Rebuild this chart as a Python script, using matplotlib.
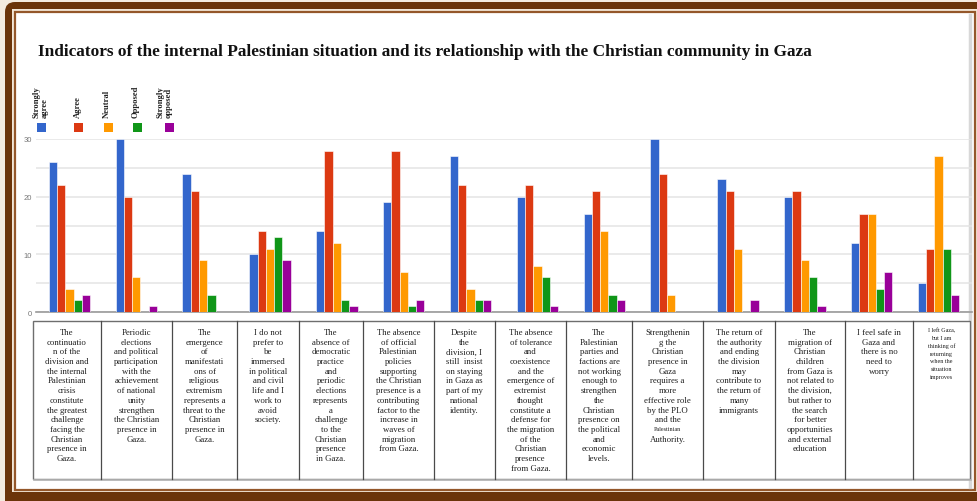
import numpy as np
import matplotlib
matplotlib.use("Agg")
import matplotlib.pyplot as plt
from matplotlib.patches import Rectangle, FancyBboxPatch

# series and values
series = ["Strongly\nagree", "Agree", "Neutral", "Opposed", "Strongly\nopposed"]
colors = ["#3366cc", "#dc3912", "#ff9900", "#109618", "#990099"]

strongly_agree = [26, 30, 24, 10, 14, 19, 27, 20, 17, 30, 23, 20, 12, 5]
agree = [22, 20, 21, 14, 28, 28, 22, 22, 21, 24, 21, 21, 17, 11]
neutral = [4, 6, 9, 11, 12, 7, 4, 8, 14, 3, 11, 9, 17, 27]
opposed = [2, 0, 3, 13, 2, 1, 2, 6, 3, 0, 0, 6, 4, 11]
strongly_opposed = [3, 1, 0, 9, 1, 2, 2, 1, 2, 0, 2, 1, 7, 3]
values = [strongly_agree, agree, neutral, opposed, strongly_opposed]

yticks = [0, 10, 20, 30]

# statement text under each group, line by line
statements = [
    ["The", "continuatio", "n of the", "division and", "the internal", "Palestinian",
     "crisis", "constitute", "the greatest", "challenge", "facing the", "Christian",
     "presence in", "Gaza."],
    ["Periodic", "elections", "and political", "participation", "with the",
     "achievement", "of national", "unity", "strengthen", "the Christian",
     "presence in", "Gaza."],
    ["The", "emergence", "of", "manifestati", "ons of", "religious", "extremism",
     "represents a", "threat to the", "Christian", "presence in", "Gaza."],
    ["I do not", "prefer to", "be", "immersed", "in political", "and civil",
     "life and I", "work to", "avoid", "society."],
    ["The", "absence of", "democratic", "practice", "and", "periodic", "elections",
     "represents", "a", "challenge", "to the", "Christian", "presence", "in Gaza."],
    ["The absence", "of official", "Palestinian", "policies", "supporting",
     "the Christian", "presence is a", "contributing", "factor to the",
     "increase in", "waves of", "migration", "from Gaza."],
    ["Despite", "the", "division, I", "still  insist", "on staying", "in Gaza as",
     "part of my", "national", "identity."],
    ["The absence", "of tolerance", "and", "coexistence", "and the", "emergence of",
     "extremist", "thought", "constitute a", "defense for", "the migration",
     "of the", "Christian", "presence", "from Gaza."],
    ["The", "Palestinian", "parties and", "factions are", "not working",
     "enough to", "strengthen", "the", "Christian", "presence on",
     "the political", "and", "economic", "levels."],
    ["Strengthenin", "g the", "Christian", "presence in", "Gaza", "requires a",
     "more", "effective role", "by the PLO", "and the", "Palestinian",
     "Authority."],
    ["The return of", "the authority", "and ending", "the division", "may",
     "contribute to", "the return of", "many", "immigrants"],
    ["The", "migration of", "Christian", "children", "from Gaza is",
     "not related to", "the division,", "but rather to", "the search",
     "for better", "opportunities", "and external", "education"],
    ["I feel safe in", "Gaza and", "there is no", "need to", "worry"],
    ["I left Gaza,", "but I am", "thinking of", "returning", "when the",
     "situation", "improves"],
]

title = ("Indicators of the internal Palestinian situation and its relationship "
         "with the Christian community in Gaza")

W, H = 977, 502
fig = plt.figure(figsize=(W / 100, H / 100), dpi=100)
fig.patch.set_facecolor("#f4ebdf")

# frame layer (pixel coordinates, y down)
frame = fig.add_axes([0, 0, 1, 1], zorder=0)
frame.set_xlim(0, W)
frame.set_ylim(H, 0)
frame.axis("off")
frame.add_patch(FancyBboxPatch((5, 3), 1000, 520, boxstyle="round,pad=0,rounding_size=10",
                               facecolor="#6b3409", edgecolor="none"))
frame.add_patch(Rectangle((12, 10), 1000, 483, facecolor="#f3e7d8", edgecolor="none"))
frame.add_patch(Rectangle((15, 13), 960, 478, facecolor="white",
                          edgecolor="#94572a", linewidth=1.6))
frame.plot([970, 970], [16, 488], color="#c8c8c8", linewidth=2.5, alpha=0.7)

# bar chart
ax = fig.add_axes([36 / W, (H - 313) / H, 936 / W, 173 / H], zorder=1)
ax.set_facecolor("none")
n = len(strongly_agree)
x = np.arange(n)
bw = 0.124
for i, (vals, c) in enumerate(zip(values, colors)):
    ax.bar(x + (i - 2) * bw, vals, width=bw, color=c, edgecolor="white",
           linewidth=0.4, zorder=3)
ax.set_xlim(-0.5, n - 0.5)
ax.set_ylim(0, 30)
ax.set_yticks(yticks)
ax.set_yticks([5, 15, 25], minor=True)
ax.set_yticklabels([str(t) for t in yticks], fontsize=5.5, color="#777777",
                   family="Liberation Sans")
ax.tick_params(axis="y", which="both", length=0, pad=3)
ax.set_xticks([])
ax.grid(axis="y", which="both", color="#e4e4e4", linewidth=1.1, zorder=0)
for s in ["top", "right", "left"]:
    ax.spines[s].set_visible(False)
ax.spines["bottom"].set_color("#9a9a9a")
ax.spines["bottom"].set_linewidth(1.2)

# overlay for title, legend and statement table
ov = fig.add_axes([0, 0, 1, 1], zorder=2)
ov.set_xlim(0, W)
ov.set_ylim(H, 0)
ov.axis("off")

ov.text(38, 52, title, fontsize=12.4, fontweight="bold", family="Liberation Serif",
        va="center", ha="left", color="#111111")

label_x = [41, 78, 107, 136, 165]
box_x = [37, 74, 104, 133, 165]
for name, c, lx, bx in zip(series, colors, label_x, box_x):
    ov.text(lx, 118, name, rotation=90, fontsize=6.2, fontweight="bold",
            family="Liberation Serif", ha="center", va="bottom",
            multialignment="left", linespacing=1.0, color="#222222")
    ov.add_patch(Rectangle((bx, 124), 9, 9, facecolor=c, edgecolor="none"))

# statement table
col_edges = [33, 101, 172, 237, 299, 363, 434, 495, 566, 632, 703, 775, 845, 913, 970]
top, bottom = 322, 480
ov.add_patch(Rectangle((col_edges[0], top), col_edges[-1] - col_edges[0], bottom - top,
                       facecolor="white", edgecolor="#6e6e6e", linewidth=1.0))
ov.plot([col_edges[0] + 1, col_edges[-1] + 1], [bottom + 1, bottom + 1],
        color="#b5b5b5", linewidth=1.2)
for xe in col_edges[1:-1]:
    ov.plot([xe, xe], [top, bottom], color="#4a4a4a", linewidth=0.9)

for k, lines in enumerate(statements):
    cx = (col_edges[k] + col_edges[k + 1]) / 2
    small = k == n - 1
    pitch = 7.7 if small else 9.7
    y0 = 331 if small else 333
    for j, line in enumerate(lines):
        fs = 4.4 if (small or line == "Palestinian" and k == 9) else 6.3
        ov.text(cx, y0 + j * pitch, line, fontsize=fs, family="Liberation Serif",
                ha="center", va="center", color="#1e1e1e")

fig.savefig("out.png", dpi=100, facecolor=fig.get_facecolor())
